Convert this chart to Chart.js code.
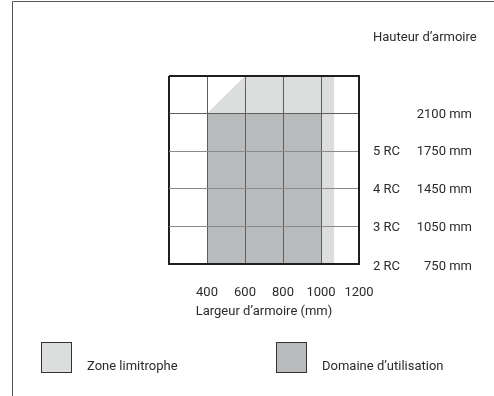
<!DOCTYPE html>
<html>
<head>
<meta charset="utf-8">
<script src="https://cdn.jsdelivr.net/npm/chart.js@4.4.1/dist/chart.umd.min.js"></script>
<style>
  html, body { margin: 0; padding: 0; background: #fff; }
  #wrap { width: 494px; height: 396px; position: relative; }
</style>
</head>
<body>
<div id="wrap"><canvas id="armoire"></canvas></div>
<script>
// Largeur d'armoire (mm) sur x, niveaux de hauteur sur y (0 = 750 mm ... 4 = 2100 mm)
const widthTicks = [400, 600, 800, 1000, 1200];
const heightLevels = [0, 1, 2, 3, 4];
const rcLabels = ['2 RC', '3 RC', '4 RC', '5 RC', ''];
const mmLabels = ['750 mm', '1050 mm', '1450 mm', '1750 mm', '2100 mm'];

// contour de la zone limitrophe
const zoneX = [400, 400, 600, 1070, 1070];
const zoneY = [0, 4, 5, 5, 0];
// contour du domaine d'utilisation
const domaineX = [400, 400, 1000, 1000];
const domaineY = [0, 4, 4, 0];

const FAMILY = 'Roboto, "Liberation Sans", sans-serif';
const SIZE = 13;
const FONT = { family: FAMILY, size: SIZE };
const FONT_STR = SIZE + 'px ' + FAMILY;
const TXT = '#2b2b2b';
const LIGHT = '#dcdddd';
const DARK = '#b9babb';

const pts = (xs, ys) => xs.map((x, i) => ({ x: x, y: ys[i] }));

const decor = {
    id: 'decor',
    beforeDraw(chart) {
        const c = chart.ctx;
        c.save();
        c.strokeStyle = '#555';
        c.lineWidth = 1;
        c.beginPath();
        c.moveTo(12.5, 396);
        c.lineTo(12.5, 1.5);
        c.lineTo(494, 1.5);
        c.stroke();
        c.restore();
    },
    afterDraw(chart) {
        const c = chart.ctx;
        const ys = chart.scales.y;
        const right = chart.chartArea.right;
        c.save();
        c.fillStyle = TXT;
        c.font = FONT_STR;
        c.textBaseline = 'middle';
        c.textAlign = 'left';
        c.fillText('Hauteur d\u2019armoire', 373, 38);
        heightLevels.forEach((v, i) => {
            const y = ys.getPixelForValue(v) + (v === 0 ? 3 : 1);
            c.textAlign = 'left';
            c.fillText(rcLabels[i], right + 14, y);
            c.textAlign = 'right';
            c.fillText(mmLabels[i], right + 113, y);
        });
        // légende
        chart.data.datasets.forEach((ds, i) => {
            const bx = i === 0 ? 41 : 276;
            c.fillStyle = ds.backgroundColor;
            c.fillRect(bx, 342, 31, 31);
            c.strokeStyle = '#333';
            c.lineWidth = 1;
            c.strokeRect(bx + 0.5, 342.5, 30, 30);
            c.fillStyle = TXT;
            c.textAlign = 'left';
            c.fillText(ds.label, bx + 46, 367);
        });
        c.restore();
    }
};

const edge = (ctx, lo, hi) => ctx.tick && (ctx.tick.value === lo || ctx.tick.value === hi);

new Chart(document.getElementById('armoire'), {
    type: 'scatter',
    data: {
        datasets: [{
            label: 'Zone limitrophe',
            data: pts(zoneX, zoneY),
            showLine: true,
            fill: 'origin',
            backgroundColor: LIGHT,
            borderWidth: 0,
            pointRadius: 0,
            tension: 0,
            order: 2
        }, {
            label: 'Domaine d\u2019utilisation',
            data: pts(domaineX, domaineY),
            showLine: true,
            fill: 'origin',
            backgroundColor: DARK,
            borderWidth: 0,
            pointRadius: 0,
            tension: 0,
            order: 1
        }]
    },
    options: {
        responsive: true,
        maintainAspectRatio: false,
        animation: false,
        layout: { padding: { left: 169, right: 135, top: 76, bottom: 72 } },
        plugins: {
            legend: { display: false },
            tooltip: { enabled: false }
        },
        scales: {
            x: {
                type: 'linear',
                min: 200,
                max: 1200,
                afterFit: (s) => { s.height = 60; },
                ticks: {
                    stepSize: 200,
                    padding: 21,
                    color: TXT,
                    font: FONT,
                    maxRotation: 0,
                    callback: (v) => widthTicks.includes(v) ? String(v) : ''
                },
                grid: {
                    z: 1,
                    drawTicks: false,
                    color: (ctx) => edge(ctx, 200, 1200) ? '#1e1e1e' : '#5e5e5e',
                    lineWidth: (ctx) => edge(ctx, 200, 1200) ? 2 : 1
                },
                border: { z: 1, color: '#1e1e1e', width: 2 },
                title: {
                    display: true,
                    text: 'Largeur d\u2019armoire (mm)',
                    color: TXT,
                    font: FONT,
                    padding: { top: 0, bottom: 4 }
                }
            },
            y: {
                type: 'linear',
                position: 'right',
                min: 0,
                max: 5,
                afterFit: (s) => { s.width = 0; },
                ticks: { stepSize: 1, display: false },
                grid: {
                    z: 1,
                    drawTicks: false,
                    color: (ctx) => edge(ctx, 0, 5) ? '#1e1e1e' : (ctx.tick && ctx.tick.value === 4 ? '#5e5e5e' : '#8a8a8a'),
                    lineWidth: (ctx) => edge(ctx, 0, 5) ? 2 : 1
                },
                border: { z: 1, color: '#1e1e1e', width: 2 }
            }
        }
    },
    plugins: [decor]
});
</script>
</body>
</html>
